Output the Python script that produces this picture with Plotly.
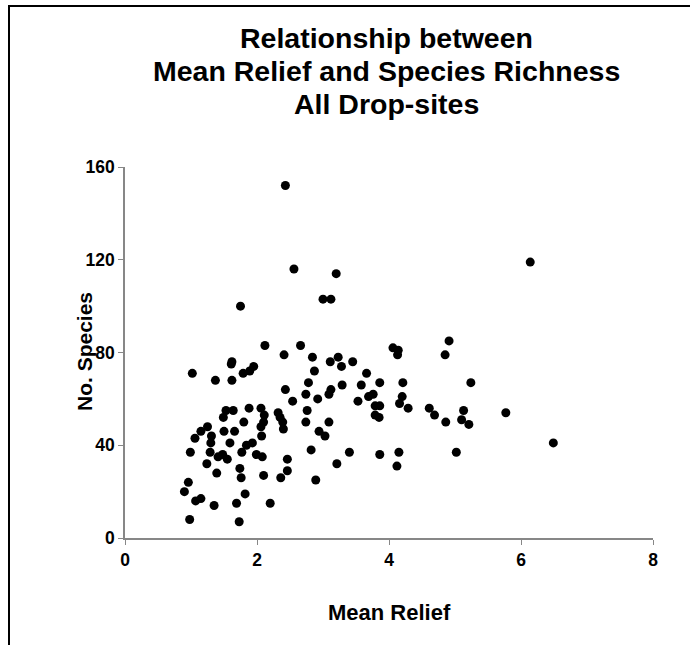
import plotly.graph_objects as go

# Mean relief and species count at each drop-site
mean_relief = [
    2.12, 2.66, 2.41, 1.62, 1.02, 1.79, 1.89, 1.95, 1.37, 1.62,
    2.43, 2.54, 1.53, 1.64, 1.49, 1.88, 2.06, 2.11, 2.32, 2.35,
    2.39, 1.80, 2.10, 2.06, 2.07, 2.40, 1.25, 1.15, 1.06, 1.31,
    1.50, 1.66, 1.30, 1.59, 1.84, 1.93, 0.99, 1.29, 1.77, 1.41,
    1.48, 1.55, 1.99, 2.08, 1.24, 1.74, 2.46, 1.39, 1.76, 2.10,
    2.36, 2.46, 0.96, 0.90, 1.07, 1.15, 1.35, 1.82, 1.69, 2.20,
    0.98, 1.73, 2.43, 2.56, 1.75, 3.20, 3.00, 3.12, 4.91, 2.84,
    2.87, 3.11, 3.23, 3.28, 3.45, 3.66, 4.06, 4.14, 4.13, 4.85,
    2.78, 3.29, 3.58, 3.86, 4.21, 5.24, 2.74, 3.12, 3.09, 2.92,
    3.53, 3.69, 3.76, 3.79, 3.86, 3.79, 3.85, 4.16, 4.20, 4.29,
    4.61, 4.69, 4.86, 5.13, 5.10, 5.21, 2.76, 2.74, 3.09, 2.94,
    3.03, 2.82, 3.40, 3.86, 4.15, 5.02, 3.21, 4.12, 2.89, 6.14,
    5.77, 6.49, 1.61,
]
species = [
    83, 83, 79, 76, 71, 71, 72, 74, 68, 68,
    64, 59, 55, 55, 52, 56, 56, 53, 54, 52,
    50, 50, 50, 48, 44, 47, 48, 46, 43, 44,
    46, 46, 41, 41, 40, 41, 37, 37, 37, 35,
    36, 34, 36, 35, 32, 30, 34, 28, 26, 27,
    26, 29, 24, 20, 16, 17, 14, 19, 15, 15,
    8, 7, 152, 116, 100, 114, 103, 103, 85, 78,
    72, 76, 78, 74, 76, 71, 82, 81, 79, 79,
    67, 66, 66, 67, 67, 67, 62, 64, 62, 60,
    59, 61, 62, 57, 57, 53, 52, 58, 61, 56,
    56, 53, 50, 55, 51, 49, 55, 50, 50, 46,
    44, 38, 37, 36, 37, 37, 32, 31, 25, 119,
    54, 41, 75,
]

x_ticks = [0, 2, 4, 6, 8]
y_ticks = [0, 40, 80, 120, 160]

title_lines = ["Relationship between", "Mean Relief and Species Richness", "All Drop-sites"]

axis_grey = "#878787"
font_family = "Liberation Sans, Arial, sans-serif"

# plot-area geometry in pixels
PLOT_L, PLOT_R, PLOT_T, PLOT_B = 125, 653, 167, 538
W, H = 690, 645
pw, ph = PLOT_R - PLOT_L, PLOT_B - PLOT_T


def px_x(px):
    return (px - PLOT_L) / pw


def px_y(py):
    return (PLOT_B - py) / ph


fig = go.Figure(
    go.Scatter(
        x=mean_relief,
        y=species,
        mode="markers",
        marker=dict(color="black", size=9, line=dict(width=0)),
        hoverinfo="x+y",
    )
)

axis_common = dict(
    showgrid=False,
    zeroline=False,
    showline=True,
    linecolor=axis_grey,
    linewidth=1.5,
    ticks="outside",
    ticklen=5,
    tickwidth=1.2,
    tickcolor=axis_grey,
    tickfont=dict(family=font_family, size=17.5, color="black", weight="bold"),
)

fig.update_xaxes(range=[0, 8], tickvals=x_ticks, **axis_common)
fig.update_yaxes(range=[0, 160], tickvals=y_ticks, **axis_common)

annotations = []
for line, cy in zip(title_lines, [38, 71, 104]):
    annotations.append(
        dict(
            text=line,
            xref="paper", yref="paper",
            x=px_x(386), y=px_y(cy),
            xanchor="center", yanchor="middle",
            showarrow=False,
            font=dict(family=font_family, size=28.5, color="black", weight="bold"),
        )
    )

annotations += [
    dict(
        text="Mean Relief",
        xref="paper", yref="paper",
        x=px_x(389), y=px_y(612),
        xanchor="center", yanchor="middle",
        showarrow=False,
        font=dict(family=font_family, size=22, color="black", weight="bold"),
    ),
    dict(
        text="No. Species",
        xref="paper", yref="paper",
        x=px_x(84), y=px_y(352),
        xanchor="center", yanchor="middle",
        textangle=-90,
        showarrow=False,
        font=dict(family=font_family, size=21, color="black", weight="bold"),
    ),
]

fig.update_layout(
    width=W,
    height=H,
    margin=dict(l=PLOT_L, r=W - PLOT_R, t=PLOT_T, b=H - PLOT_B),
    paper_bgcolor="white",
    plot_bgcolor="white",
    showlegend=False,
    font=dict(family=font_family, color="black"),
    annotations=annotations,
    shapes=[
        dict(
            type="rect",
            xref="paper", yref="paper",
            x0=px_x(9), x1=px_x(700),
            y0=px_y(660), y1=px_y(6),
            line=dict(color="black", width=2),
            fillcolor="rgba(0,0,0,0)",
            layer="below",
        )
    ],
)

fig.write_html("out.html")
